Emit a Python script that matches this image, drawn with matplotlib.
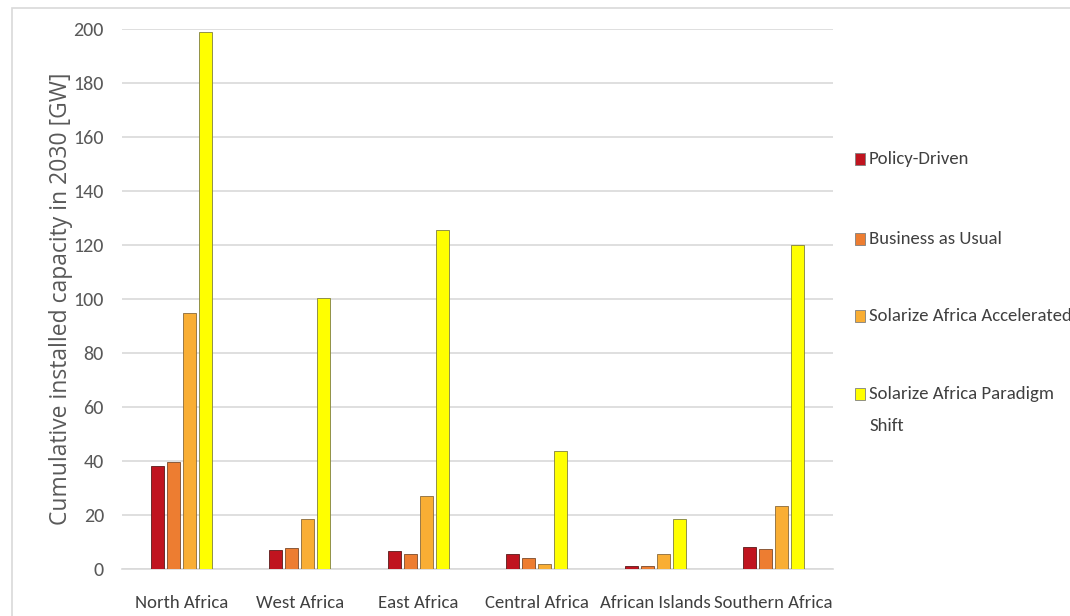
import matplotlib
matplotlib.use("Agg")
import matplotlib.pyplot as plt
import numpy as np
from matplotlib.patches import Rectangle

categories = ["North Africa", "West Africa", "East Africa", "Central Africa",
              "African Islands", "Southern Africa"]
series_names = ["Policy-Driven", "Business as Usual",
                "Solarize Africa Accelerated", "Solarize Africa Paradigm\nShift"]
policy_driven = [38.0, 6.9, 6.5, 5.6, 1.1, 8.3]
business_as_usual = [39.7, 7.6, 5.6, 4.2, 1.1, 7.4]
solarize_accelerated = [94.8, 18.4, 27.2, 1.9, 5.6, 23.5]
solarize_paradigm = [198.9, 100.4, 125.6, 43.7, 18.6, 120.0]
yticks = [0, 20, 40, 60, 80, 100, 120, 140, 160, 180, 200]
ylabel = "Cumulative installed capacity in 2030 [GW]"

series = [policy_driven, business_as_usual, solarize_accelerated, solarize_paradigm]
colors = ["#C0141F", "#ED7D31", "#F9AE34", "#FFFF00"]
edges = ["#5a1a1a", "#7a4a2a", "#8a6a3a", "#808040"]

NARROW = ["Carlito", "Source Sans 3", "PT Sans Narrow", "Roboto Condensed",
          "Barlow Semi Condensed", "DejaVu Sans"]
WIDE = ["Selawik", "Open Sans", "DejaVu Sans"]

fig = plt.figure(figsize=(10.7, 6.16), dpi=100)
ax = fig.add_axes([122/1070, 1-569/616, (833-122)/1070, (569-29)/616])

x = np.arange(len(categories))
w = 0.11
step = 0.135
offsets = (np.arange(4) - 1.5) * step
for i, vals in enumerate(series):
    ax.bar(x + offsets[i], vals, width=w, color=colors[i], edgecolor=edges[i],
           linewidth=0.6, zorder=3)

ax.set_xlim(-0.5, len(categories) - 0.5)
ax.set_ylim(0, 200)
ax.set_yticks(yticks)
ax.set_yticklabels([str(t) for t in yticks], family=NARROW, fontsize=14.5, color="#595959")
ax.set_xticks(x)
ax.set_xticklabels(categories, family=NARROW, fontsize=13.5, color="#404040")
ax.tick_params(axis="both", length=0)
ax.tick_params(axis="y", pad=13)
ax.tick_params(axis="x", pad=19)
ax.grid(axis="y", color="#d9d9d9", linewidth=1.2, zorder=0)
for s in ["top", "right", "left"]:
    ax.spines[s].set_visible(False)
ax.spines["bottom"].set_color("#d9d9d9")
ax.spines["bottom"].set_linewidth(1.2)
ax.set_ylabel(ylabel, family=WIDE, fontsize=16.5, color="#595959")
ax.yaxis.set_label_coords((73 - 122) / 711, 0.5)

# outer frame
fig.add_artist(Rectangle((12/1070, -0.01), 1.1, 1 - 8/616 + 0.01,
                         transform=fig.transFigure, fill=False,
                         edgecolor="#d9d9d9", linewidth=1.2))

# legend
leg_y = [159, 239, 316, 394]
for i, name in enumerate(series_names):
    ypx = leg_y[i]
    fig.add_artist(Rectangle((855/1070, 1 - (ypx + 6)/616), 10/1070, 12/616,
                             transform=fig.transFigure, facecolor=colors[i],
                             edgecolor="#7f7f7f", linewidth=0.6))
    fig.text(869/1070, 1 - (ypx - 8)/616, name, family=NARROW, fontsize=13.5,
             color="#404040", va="top", ha="left", linespacing=2.2)

fig.savefig("out.png", dpi=100)
